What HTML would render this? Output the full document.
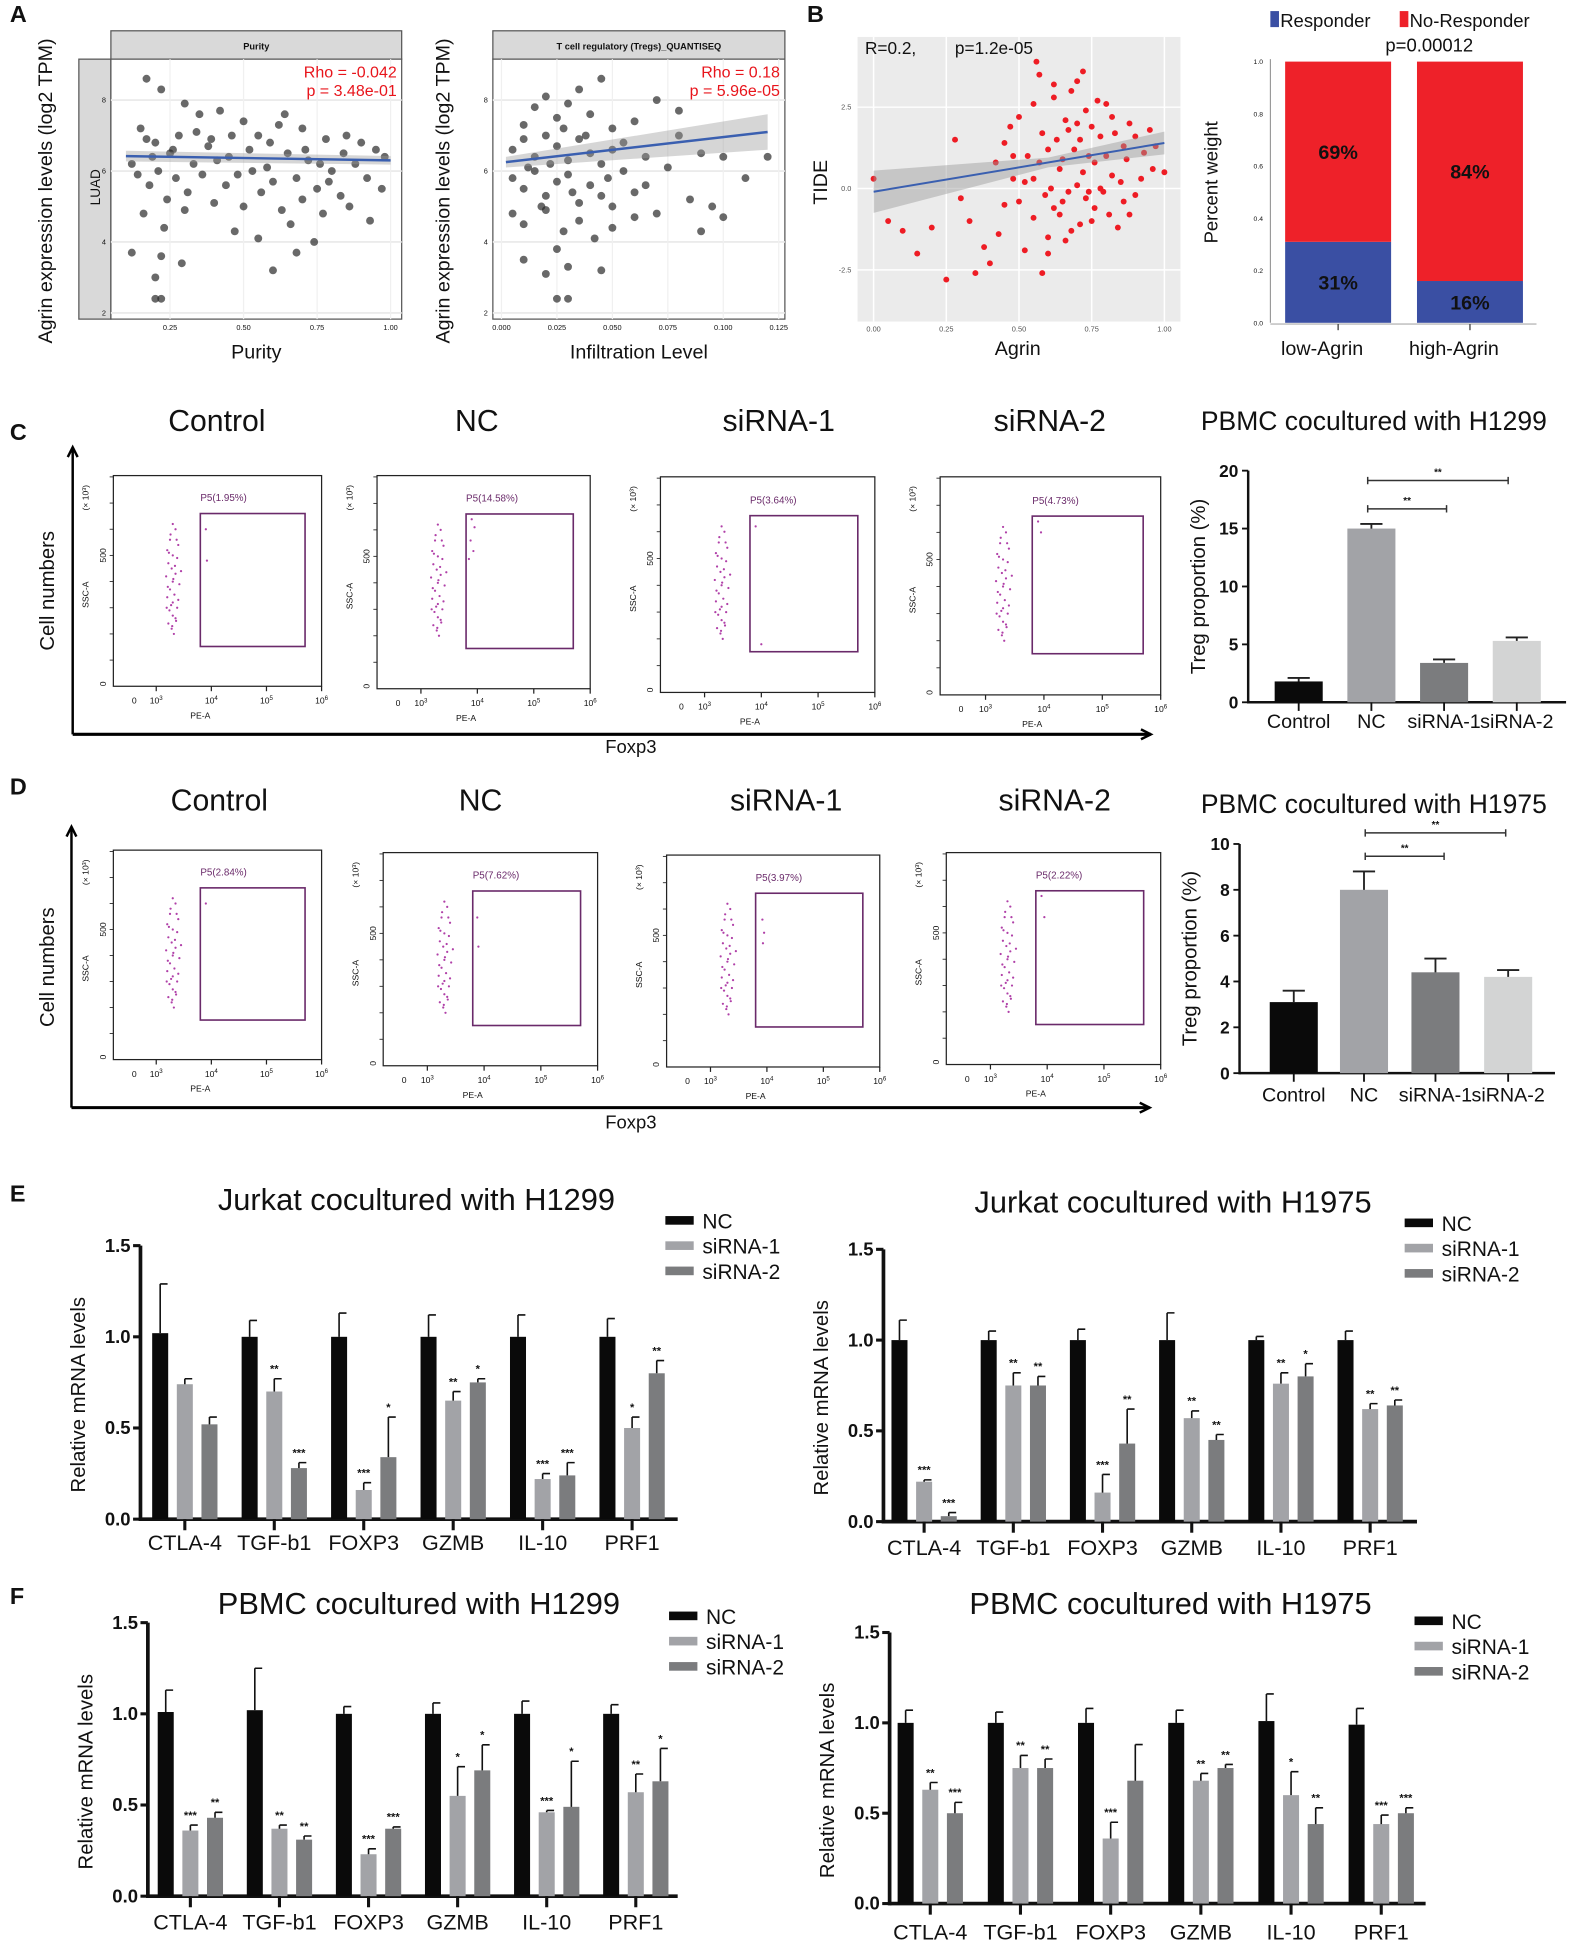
<!DOCTYPE html>
<html><head><meta charset="utf-8"><style>
html,body{margin:0;padding:0;background:#fff;}
svg{display:block;font-family:"Liberation Sans",Arial,sans-serif;}
</style></head><body>
<svg id="fig" xmlns="http://www.w3.org/2000/svg" width="1571" height="1943" viewBox="0 0 1275 1577" preserveAspectRatio="none">
<rect x="0" y="0" width="1275" height="1577" fill="#fff"/>
</svg>
<script>
// ---------------- DATA ----------------
const purityX=[0.17,0.22,0.3,0.35,0.42,0.5,0.55,0.62,0.7,0.78,0.85,0.95,0.15,0.2,0.25,0.28,0.33,0.38,0.45,0.48,0.52,0.58,0.6,0.65,0.68,0.72,0.75,0.8,0.83,0.88,0.92,0.98,0.12,0.18,0.21,0.24,0.27,0.31,0.36,0.4,0.44,0.5,0.56,0.63,0.7,0.77,0.86,0.93,0.16,0.23,0.3,0.47,0.55,0.66,0.74,0.22,0.29,0.12,0.6,0.68,0.2,0.22,0.2,0.19,0.17,0.26,0.34,0.41,0.53,0.59,0.71,0.79,0.9,0.97,0.14,0.39,0.46,0.64,0.76,0.84];
const purityY=[8.6,8.3,7.9,7.6,7.7,7.4,7.0,7.3,7.2,6.9,7.0,6.6,7.2,6.8,6.5,7.0,6.2,6.7,6.4,5.9,6.6,6.1,5.7,6.5,5.8,6.3,5.5,6.0,5.3,6.2,5.8,6.4,6.2,5.6,6.0,5.2,5.8,5.4,5.9,5.1,5.6,5.0,5.4,4.9,5.2,4.8,5.0,4.6,4.8,4.4,4.9,4.3,4.1,4.5,4.0,3.6,3.4,3.7,3.2,3.7,2.4,2.4,3.0,6.4,6.9,6.6,7.1,6.3,6.0,6.8,6.6,5.7,6.8,5.5,5.9,6.9,7.0,7.6,6.2,6.5];
const tregX=[0.01,0.015,0.02,0.025,0.03,0.035,0.04,0.045,0.05,0.06,0.07,0.08,0.005,0.01,0.015,0.02,0.025,0.03,0.035,0.04,0.045,0.05,0.055,0.065,0.075,0.09,0.1,0.12,0.005,0.01,0.015,0.02,0.025,0.03,0.035,0.04,0.045,0.05,0.06,0.07,0.085,0.11,0.005,0.01,0.02,0.028,0.035,0.042,0.05,0.06,0.09,0.1,0.01,0.02,0.03,0.025,0.045,0.025,0.03,0.012,0.018,0.022,0.028,0.032,0.038,0.048,0.055,0.065,0.08,0.095];
const tregY=[7.3,7.8,8.1,7.5,7.9,8.3,7.6,8.6,7.2,7.4,8.0,7.7,6.6,6.9,6.4,7.0,6.7,6.3,6.9,6.5,6.2,6.6,6.0,6.4,6.1,6.5,6.4,6.4,5.8,5.5,6.0,5.3,5.7,5.9,5.1,5.6,5.3,5.0,5.4,4.8,5.2,5.8,4.8,4.5,4.9,4.3,4.6,4.1,4.4,4.7,4.3,4.7,3.5,3.1,3.3,3.8,3.2,2.4,2.4,6.1,5.0,6.2,7.2,5.4,7.0,5.8,6.8,5.6,7.0,5.0];
const purityRho="Rho = -0.042", purityP="p = 3.48e-01";
const tregRho="Rho = 0.18", tregP="p = 5.96e-05";
const purityFit=[6.42,6.30];
const tregFit=[6.25,7.1];
const agrinX=[0,0.05,0.1,0.15,0.2,0.25,0.28,0.3,0.33,0.35,0.38,0.4,0.42,0.45,0.47,0.5,0.52,0.55,0.57,0.58,0.6,0.62,0.64,0.65,0.67,0.68,0.7,0.71,0.73,0.74,0.76,0.78,0.8,0.82,0.84,0.86,0.88,0.9,0.93,0.96,1.0,0.45,0.48,0.5,0.53,0.55,0.57,0.59,0.6,0.61,0.63,0.64,0.66,0.67,0.69,0.7,0.72,0.73,0.75,0.76,0.77,0.79,0.8,0.81,0.83,0.85,0.87,0.9,0.92,0.95,0.55,0.58,0.62,0.65,0.68,0.71,0.74,0.78,0.82,0.86,0.62,0.7,0.6,0.66,0.52,0.43,0.48,0.75,0.88,0.97,0.56,0.72];
const tideY=[0.3,-1.0,-1.3,-2.0,-1.2,-2.8,1.5,-0.3,-1.0,-2.6,-1.8,-2.3,0.8,-0.5,1.9,2.2,0.2,-0.9,3.5,-2.6,1.2,2.8,0.6,-0.4,1.8,3.0,0.1,-1.1,2.4,1.0,-0.6,1.6,2.6,0.4,-1.2,1.3,2.0,-0.2,1.1,0.6,0.5,1.4,0.3,-0.4,1.0,2.6,0.8,-0.2,-1.5,0.0,1.5,-0.8,2.1,-0.1,1.2,2.0,0.5,-0.3,1.9,0.8,2.7,-0.1,1.0,-0.8,1.7,0.2,0.9,1.6,0.3,1.8,0.3,1.7,-0.6,0.9,-1.3,1.5,-0.1,0.0,2.2,-0.4,3.2,3.3,-2.0,-1.6,-1.9,-1.4,1.0,-1.0,-0.8,1.3,3.9,3.6];
const tideFit=[-0.1,1.4];
const stackCats=["low-Agrin","high-Agrin"];
const responderPct=[31,16];
const nonResponderPct=[69,84];
const clusterPE=[3.3,3.35,3.25,3.4,3.2,3.3,3.38,3.22,3.28,3.35,3.18,3.3,3.42,3.25,3.33,3.2,3.3,3.38,3.24,3.3,3.36,3.22,3.28,3.32,3.26,3.34,3.21,3.4,3.27,3.35,3.23,3.31,3.45,3.19,3.37,3.29];
const clusterSSC=[620,600,560,540,520,500,490,470,450,430,420,400,390,370,350,340,320,300,290,270,250,240,220,200,580,460,380,330,310,260,510,410,440,300,560,230];
const gatedPE=[[3.9,3.92],[3.9,3.95,3.88,3.93,3.85],[3.9,4.0],[3.9,3.95],[3.9],[3.88,3.9],[3.92,3.95,3.93],[3.9,3.95]];
const gatedSSC=[[600,480],[640,610,560,520,490],[620,180],[640,600],[600],[560,450],[560,510,470],[640,560]];
const gateLabels=["P5(1.95%)","P5(14.58%)","P5(3.64%)","P5(4.73%)","P5(2.84%)","P5(7.62%)","P5(3.97%)","P5(2.22%)"];
const tregCats=["Control","NC","siRNA-1","siRNA-2"];
const tregH1299=[1.8,15.0,3.4,5.3];
const tregH1299Err=[0.3,0.4,0.3,0.3];
const tregH1975=[3.1,8.0,4.4,4.2];
const tregH1975Err=[0.5,0.8,0.6,0.3];
const genes=["CTLA-4","TGF-b1","FOXP3","GZMB","IL-10","PRF1"];
const jurkatH1299NC=[1.02,1.0,1.0,1.0,1.0,1.0];
const jurkatH1299NCTop=[1.29,1.09,1.13,1.12,1.12,1.10];
const jurkatH1299S1=[0.74,0.70,0.16,0.65,0.22,0.50];
const jurkatH1299S1Top=[0.77,0.77,0.20,0.70,0.25,0.56];
const jurkatH1299S2=[0.52,0.28,0.34,0.75,0.24,0.80];
const jurkatH1299S2Top=[0.56,0.31,0.56,0.77,0.31,0.87];
const jurkatH1299S1Sig=["","**","***","**","***","*"];
const jurkatH1299S2Sig=["","***","*","*","***","**"];
const jurkatH1975NC=[1.0,1.0,1.0,1.0,1.0,1.0];
const jurkatH1975NCTop=[1.11,1.05,1.06,1.15,1.02,1.05];
const jurkatH1975S1=[0.22,0.75,0.16,0.57,0.76,0.62];
const jurkatH1975S1Top=[0.23,0.82,0.26,0.61,0.82,0.65];
const jurkatH1975S2=[0.03,0.75,0.43,0.45,0.80,0.64];
const jurkatH1975S2Top=[0.05,0.80,0.62,0.48,0.87,0.67];
const jurkatH1975S1Sig=["***","**","***","**","**","**"];
const jurkatH1975S2Sig=["***","**","**","**","*","**"];
const pbmcH1299NC=[1.01,1.02,1.0,1.0,1.0,1.0];
const pbmcH1299NCTop=[1.13,1.25,1.04,1.06,1.07,1.05];
const pbmcH1299S1=[0.36,0.37,0.23,0.55,0.46,0.57];
const pbmcH1299S1Top=[0.39,0.39,0.26,0.71,0.47,0.67];
const pbmcH1299S2=[0.43,0.31,0.37,0.69,0.49,0.63];
const pbmcH1299S2Top=[0.46,0.33,0.38,0.83,0.74,0.81];
const pbmcH1299S1Sig=["***","**","***","*","***","**"];
const pbmcH1299S2Sig=["**","**","***","*","*","*"];
const pbmcH1975NC=[1.0,1.0,1.0,1.0,1.01,0.99];
const pbmcH1975NCTop=[1.07,1.06,1.08,1.07,1.16,1.08];
const pbmcH1975S1=[0.63,0.75,0.36,0.68,0.60,0.44];
const pbmcH1975S1Top=[0.67,0.82,0.45,0.72,0.73,0.49];
const pbmcH1975S2=[0.50,0.75,0.68,0.75,0.44,0.50];
const pbmcH1975S2Top=[0.56,0.80,0.88,0.77,0.53,0.53];
const pbmcH1975S1Sig=["**","**","***","**","*","***"];
const pbmcH1975S2Sig=["***","**","","**","**","***"];
const qTicks=["0.0","0.5","1.0","1.5"];

// ---------------- HELPERS ----------------
const NS="http://www.w3.org/2000/svg";
const svg=document.getElementById('fig');
function mk(tag,attrs,parent){const e=document.createElementNS(NS,tag);for(const k in attrs)e.setAttribute(k,attrs[k]);(parent||svg).appendChild(e);return e;}
function tx(x,y,s,attrs,parent){const a=Object.assign({x:x,y:y,'font-size':12,fill:'#111'},attrs||{});const e=mk('text',a,parent);e.textContent=s;return e;}
function grp(parent){return mk('g',{},parent);}

[["A",8,18],["B",655,18],["C",8,357],["D",8,645],["E",8,975],["F",8,1302]].forEach(p=>{
  const t=tx(p[1],p[2],p[0],{'font-size':19,'font-weight':'bold'});
  
  
});

// ---------------- PANEL A ----------------
function scatterA(cfg){
  const g=grp();
  
  
  const L=cfg.x0,R=cfg.x1,T=48,B=259;
  const hd=mk('rect',{x:L,y:25,width:R-L,height:T-25,fill:'#d9d9d9',stroke:'#555','stroke-width':1},g);
  
  
  const ht=tx((L+R)/2,40,cfg.header,{'font-size':7.5,'text-anchor':'middle','font-weight':'bold'},g);
  
  
  const bg=mk('rect',{x:L,y:T,width:R-L,height:B-T,fill:'#fff',stroke:'#555','stroke-width':1},g);
  
  
  const ys=v=>254-(v-2)*28.8;
  [2,4,6,8].forEach(v=>{
    const gl=mk('line',{x1:L,x2:R,y1:ys(v),y2:ys(v),stroke:'#ebebeb','stroke-width':1.5},g);
    
    
    const tl=tx(L-4,ys(v)+2,String(v),{'font-size':6,'text-anchor':'end'},g);
    
    
  });
  cfg.ticks.forEach(v=>{
    const px=cfg.xs(v);
    const gl=mk('line',{x1:px,x2:px,y1:T,y2:B,stroke:'#f0f0f0','stroke-width':1},g);
    
    
    const tl=tx(px,268,cfg.fmt(v),{'font-size':6,'text-anchor':'middle'},g);
    
    
  });
  cfg.X.forEach((xv,i)=>{
    const c=mk('circle',{cx:cfg.xs(xv),cy:ys(cfg.Y[i]),r:3.2,fill:'#2a2a2a','fill-opacity':0.7},g);
    
    
  });
  const fx0=cfg.fitX[0],fx1=cfg.fitX[1];
  const band=mk('polygon',{points:`${cfg.xs(fx0)},${ys(cfg.fit[0]-cfg.band[0])} ${cfg.xs(fx1)},${ys(cfg.fit[1]-cfg.band[1])} ${cfg.xs(fx1)},${ys(cfg.fit[1]+cfg.band[1])} ${cfg.xs(fx0)},${ys(cfg.fit[0]+cfg.band[0])}`,fill:'#999','fill-opacity':0.4},g);
  
  
  const ln=mk('line',{x1:cfg.xs(fx0),y1:ys(cfg.fit[0]),x2:cfg.xs(fx1),y2:ys(cfg.fit[1]),stroke:'#3a5fb0','stroke-width':2},g);
  
  
  const r1=tx(R-4,63,cfg.rho,{'font-size':13,'text-anchor':'end',fill:'#e8141b'},g);
  
  
  const r2=tx(R-4,78,cfg.p,{'font-size':13,'text-anchor':'end',fill:'#e8141b'},g);
  
  
  const xl=tx((L+R)/2,291,cfg.xlabel,{'font-size':16,'text-anchor':'middle'},g);
  
  
  const yl=tx(0,0,"Agrin expression levels (log2 TPM)",{'font-size':16,'text-anchor':'middle',transform:`translate(${cfg.ylx},155) rotate(-90)`},g);
  
  
}
const luad=mk('rect',{x:64,y:48,width:26,height:211,fill:'#d9d9d9',stroke:'#555','stroke-width':1});


const luadT=tx(0,0,"LUAD",{'font-size':11,'text-anchor':'middle',transform:'translate(81,152) rotate(-90)'});


scatterA({name:'purity-scatter',x0:90,x1:326,header:'Purity',xs:v=>138+(v-0.25)*238.7,ticks:[0.25,0.5,0.75,1.0],fmt:v=>v.toFixed(2),X:purityX,Y:purityY,fit:purityFit,fitX:[0.1,1.0],band:[0.15,0.12],rho:purityRho,p:purityP,xlabel:'Purity',ylx:42});
scatterA({name:'treg-scatter',x0:400,x1:637,header:'T cell regulatory (Tregs)_QUANTISEQ',xs:v=>407+v*1800,ticks:[0,0.025,0.05,0.075,0.1,0.125],fmt:v=>v.toFixed(3),X:tregX,Y:tregY,fit:tregFit,fitX:[0.002,0.12],band:[0.15,0.5],rho:tregRho,p:tregP,xlabel:'Infiltration Level',ylx:365});

// ---------------- PANEL B scatter ----------------
(function(){
  const g=grp();
  
  
  const L=696,R=958,T=30,B=261;
  const xs=v=>709+v*236, ys=v=>153-v*26.4;
  const bg=mk('rect',{x:L,y:T,width:R-L,height:B-T,fill:'#ebebeb'},g);
  
  
  [-2.5,0,2.5].forEach(v=>{
    const gl=mk('line',{x1:L,x2:R,y1:ys(v),y2:ys(v),stroke:'#fff','stroke-width':1.2},g);
    
    
    const tl=tx(L-5,ys(v)+2,v.toFixed(1),{'font-size':6,'text-anchor':'end',fill:'#555'},g);
    
    
  });
  [0,0.25,0.5,0.75,1].forEach(v=>{
    const gl=mk('line',{x1:xs(v),x2:xs(v),y1:T,y2:B,stroke:'#fff','stroke-width':1.2},g);
    
    
    const tl=tx(xs(v),269,v.toFixed(2),{'font-size':6,'text-anchor':'middle',fill:'#555'},g);
    
    
  });
  agrinX.forEach((xv,i)=>{
    const c=mk('circle',{cx:xs(xv),cy:ys(tideY[i]),r:2.4,fill:'#ee1c24'},g);
    
    
  });
  const band=mk('polygon',{points:`${xs(0)},${ys(tideFit[0]-0.65)} ${xs(0.6)},${ys(0.8-0.15)} ${xs(1)},${ys(tideFit[1]-0.35)} ${xs(1)},${ys(tideFit[1]+0.35)} ${xs(0.6)},${ys(0.8+0.15)} ${xs(0)},${ys(tideFit[0]+0.65)}`,fill:'#999','fill-opacity':0.45},g);
  
  
  const ln=mk('line',{x1:xs(0),y1:ys(tideFit[0]),x2:xs(1),y2:ys(tideFit[1]),stroke:'#3a5fb0','stroke-width':1.6},g);
  
  
  const st=tx(702,44,"R=0.2,",{'font-size':14},g);
  
  
  const st2=tx(775,44,"p=1.2e-05",{'font-size':14},g);
  
  
  const xl=tx(826,288,"Agrin",{'font-size':16,'text-anchor':'middle'},g);
  
  
  const yl=tx(0,0,"TIDE",{'font-size':16,'text-anchor':'middle',transform:'translate(671,148) rotate(-90)'},g);
  
  
})();

// ---------------- PANEL B stacked ----------------
(function(){
  const g=grp();
  
  
  const ys=v=>262-v*2.12; const ax=1031;
  const axl=mk('line',{x1:ax,x2:ax,y1:48,y2:262,stroke:'#888','stroke-width':0.8},g);
  
  
  const bxl=mk('line',{x1:ax,x2:1247,y1:263,y2:263,stroke:'#ccc','stroke-width':1.5},g);
  
  
  [0,20,40,60,80,100].forEach(v=>{
    const tl=tx(ax-6,ys(v)+2,(v/100).toFixed(1),{'font-size':5.5,'text-anchor':'end'},g);
    
    
  });
  const bx=[1043,1150];
  stackCats.forEach((c,i)=>{
    const rb=mk('rect',{x:bx[i],y:ys(responderPct[i]),width:86,height:ys(0)-ys(responderPct[i]),fill:'#3a4fa3'},g);
    
    
    const nb=mk('rect',{x:bx[i],y:ys(responderPct[i]+nonResponderPct[i]),width:86,height:ys(responderPct[i])-ys(responderPct[i]+nonResponderPct[i]),fill:'#ee2129'},g);
    
    
    const t1=tx(bx[i]+43,(ys(responderPct[i])+ys(0))/2+6,responderPct[i]+'%',{'font-size':16,'font-weight':'bold','text-anchor':'middle'},g);
    
    
    const t2=tx(bx[i]+43,(ys(responderPct[i])+ys(100))/2+6,nonResponderPct[i]+'%',{'font-size':16,'font-weight':'bold','text-anchor':'middle'},g);
    
    
    const tk=mk('line',{x1:bx[i]+43,x2:bx[i]+43,y1:263,y2:268,stroke:'#333'},g);
    
    
    const cl=tx(bx[i]+30,288,c,{'font-size':16,'text-anchor':'middle'},g);
    
    
  });
  const ls1=mk('rect',{x:1031,y:9,width:7,height:13,fill:'#3a4fa3'},g);
  
  
  const lt1=tx(1039,22,"Responder",{'font-size':15},g);
  
  
  const ls2=mk('rect',{x:1136,y:9,width:7,height:13,fill:'#ee2129'},g);
  
  
  const lt2=tx(1144,22,"No-Responder",{'font-size':15},g);
  
  
  const pv=tx(1160,42,"p=0.00012",{'font-size':15,'text-anchor':'middle'},g);
  
  
  const yl=tx(0,0,"Percent weight",{'font-size':15,'text-anchor':'middle',transform:'translate(988,148) rotate(-90)'},g);
  
  
})();

// ---------------- FLOW PLOTS ----------------
function flowPanel(rows,titles,titleY,arrowTop,arrowY,foxY,offset){
  titles.forEach(t=>{
    const e=tx(t[1],titleY,t[0],{'font-size':24.5,'text-anchor':'middle'});
    
    
  });
  const va=mk('path',{d:`M${rows.ax},${arrowY} L${rows.ax},${arrowTop}`,stroke:'#000','stroke-width':2,fill:'none'});
  
  
  const vh=mk('path',{d:`M${rows.ax-4},${arrowTop+8} L${rows.ax},${arrowTop} L${rows.ax+4},${arrowTop+8}`,stroke:'#000','stroke-width':2,fill:'none'});
  
  
  const ha=mk('path',{d:`M${rows.ax},${arrowY} L${rows.xend},${arrowY}`,stroke:'#000','stroke-width':2.5,fill:'none'});
  
  
  const hh=mk('path',{d:`M${rows.xend-8},${arrowY-4} L${rows.xend},${arrowY} L${rows.xend-8},${arrowY+4}`,stroke:'#000','stroke-width':2,fill:'none'});
  
  
  const cn=tx(0,0,"Cell numbers",{'font-size':16.5,'text-anchor':'middle',transform:`translate(44,${(arrowTop+arrowY)/2}) rotate(-90)`});
  
  
  const fx=tx(512,foxY,"Foxp3",{'font-size':15,'text-anchor':'middle'});
  
  
  rows.boxes.forEach((b,k)=>{
    const idx=offset+k;
    const g=grp();
    
    
    const [L,T,R,B]=b; const w=R-L,h=B-T;
    const xs=v=>L+35/170*w+(v-3)*45/170*w;
    const ys=v=>B-v*(h/805);
    const box=mk('rect',{x:L,y:T,width:w,height:h,fill:'none',stroke:'#222','stroke-width':1},g);
    
    
    for(let d=3;d<=6;d++){
      const tk=mk('line',{x1:xs(d),x2:xs(d),y1:B,y2:B+4,stroke:'#222','stroke-width':1},g);
      
      
      const tl=tx(xs(d),B+14,'10',{'font-size':7,'text-anchor':'middle'},g);
      const sp=document.createElementNS(NS,'tspan');sp.setAttribute('dy','-3');sp.setAttribute('font-size','5');sp.textContent=String(d);tl.appendChild(sp);
      
      
    }
    const z=tx(L+17,B+14,'0',{'font-size':7,'text-anchor':'middle'},g);
    
    
    const pe=tx(xs(3.8),B+26,'PE-A',{'font-size':7,'text-anchor':'middle'},g);
    
    
    const y0=tx(L-6,B+2,'0',{'font-size':7,'text-anchor':'middle',transform:`rotate(-90 ${L-8} ${B})`},g);
    
    
    const y5=tx(0,0,'500',{'font-size':7,'text-anchor':'middle',transform:`translate(${L-6},${ys(500)}) rotate(-90)`},g);
    
    
    const ss=tx(0,0,'SSC-A',{'font-size':7,'text-anchor':'middle',transform:`translate(${L-20},${ys(350)}) rotate(-90)`},g);
    
    
    const sc=tx(0,0,'(× 10³)',{'font-size':7,'text-anchor':'middle',transform:`translate(${L-20},${T+18}) rotate(-90)`},g);
    
    
    for(let s=100;s<=800;s+=100){
      const tk=mk('line',{x1:L-3,x2:L,y1:ys(s),y2:ys(s),stroke:'#222','stroke-width':0.7},g);
      
      
    }
    const gate=mk('rect',{x:xs(3.8),y:ys(660),width:xs(5.7)-xs(3.8),height:ys(152)-ys(660),fill:'none',stroke:'#6a2a6a','stroke-width':1.3},g);
    
    
    const gl=tx(xs(3.8),ys(660)-10,gateLabels[idx],{'font-size':8,fill:'#6a2a6a'},g);
    
    
    clusterPE.forEach((pv,i)=>{
      const c=mk('circle',{cx:xs(pv),cy:ys(clusterSSC[i]),r:0.9,fill:'#b040a8'},g);
      
      
    });
    gatedPE[idx].forEach((pv,i)=>{
      const c=mk('circle',{cx:xs(pv),cy:ys(gatedSSC[idx][i]),r:0.9,fill:'#b040a8'},g);
      
      
    });
  });
}
flowPanel({ax:59,xend:934,boxes:[[92,386,261,557],[306,386,479,559],[536,387,710,562],[763,387,942,564]]},
  [["Control",176],["NC",387],["siRNA-1",632],["siRNA-2",852]],350,363,596,611,0);
flowPanel({ax:58,xend:933,boxes:[[92,690,261,860],[311,692,485,865],[541,694,714,866],[768,692,942,864]]},
  [["Control",178],["NC",390],["siRNA-1",638],["siRNA-2",856]],658,671,899,916,4);

// ---------------- TREG BAR CHARTS ----------------
function tregBar(cfg,vals,errs){
  const g=grp();
  
  
  const ys=v=>cfg.y0-(v/cfg.max)*(cfg.y0-cfg.yTop);
  const t=tx(1115,cfg.titleY,cfg.title,{'font-size':21.5,'text-anchor':'middle'},g);
  
  
  const ya=mk('line',{x1:cfg.ax,x2:cfg.ax,y1:cfg.yTop,y2:cfg.y0+1,stroke:'#111','stroke-width':2},g);
  
  
  const xa=mk('line',{x1:cfg.ax,x2:cfg.xend,y1:cfg.y0,y2:cfg.y0,stroke:'#111','stroke-width':2},g);
  
  
  for(let v=0;v<=cfg.max;v+=cfg.step){
    const tk=mk('line',{x1:cfg.ax-5,x2:cfg.ax,y1:ys(v),y2:ys(v),stroke:'#111','stroke-width':1.5},g);
    
    
    const tl=tx(cfg.ax-8,ys(v)+5,String(v),{'font-size':14,'font-weight':'bold','text-anchor':'end'},g);
    
    
  }
  const yl=tx(0,0,"Treg proportion (%)",{'font-size':16.5,'text-anchor':'middle',transform:`translate(${cfg.ax-35},${(cfg.y0+cfg.yTop)/2}) rotate(-90)`},g);
  
  
  const cols=['#0a0a0a','#a2a3a7','#7b7c7e','#d3d4d4'];
  tregCats.forEach((c,i)=>{
    const cx=cfg.cx[i];
    const b=mk('rect',{x:cx-19.5,y:ys(vals[i]),width:39,height:cfg.y0-ys(vals[i]),fill:cols[i]},g);
    
    
    const e=mk('path',{d:`M${cx},${ys(vals[i])} L${cx},${ys(vals[i]+errs[i])} M${cx-9},${ys(vals[i]+errs[i])} L${cx+9},${ys(vals[i]+errs[i])}`,stroke:'#222','stroke-width':1.5,fill:'none'},g);
    
    
    const tk=mk('line',{x1:cx,x2:cx,y1:cfg.y0,y2:cfg.y0+7,stroke:'#111','stroke-width':1.5},g);
    
    
    const cl=tx(cx,cfg.labelY,c,{'font-size':16,'text-anchor':'middle'},g);
    
    
  });
  cfg.sig.forEach(s=>{
    const p=mk('path',{d:`M${s[0]},${s[2]} L${s[1]},${s[2]} M${s[0]},${s[2]-3} L${s[0]},${s[2]+3} M${s[1]},${s[2]-3} L${s[1]},${s[2]+3}`,stroke:'#333','stroke-width':1.2,fill:'none'},g);
    
    
    const st=tx((s[0]+s[1])/2,s[2]-4,'**',{'font-size':8,'text-anchor':'middle','font-weight':'bold'},g);
    
    
  });
}
tregBar({name:'treg-h1299-bar-chart',title:'PBMC cocultured with H1299',titleY:349,ax:1013,xend:1271,y0:570,yTop:382,max:20,step:5,cx:[1054,1113,1172,1231],labelY:591,sig:[[1110,1224,390],[1110,1174,413]]},tregH1299,tregH1299Err);
tregBar({name:'treg-h1975-bar-chart',title:'PBMC cocultured with H1975',titleY:660,ax:1006,xend:1262,y0:871,yTop:685,max:10,step:2,cx:[1050,1107,1165,1224],labelY:894,sig:[[1108,1222,676],[1108,1172,695]]},tregH1975,tregH1975Err);

// ---------------- QPCR GROUPED BARS ----------------
function grouped(cfg,nc,ncTop,s1,s1Top,s2,s2Top,sig1,sig2){
  const g=grp();
  
  
  const ys=v=>cfg.y0-(v/1.5)*(cfg.y0-cfg.y15);
  const t=tx(cfg.titleX,cfg.titleY,cfg.title,{'font-size':25,'text-anchor':'middle'},g);
  
  
  const ya=mk('line',{x1:cfg.ax,x2:cfg.ax,y1:cfg.y15,y2:cfg.y0+1.5,stroke:'#111','stroke-width':3},g);
  
  
  const xa=mk('line',{x1:cfg.ax,x2:cfg.xend,y1:cfg.y0,y2:cfg.y0,stroke:'#111','stroke-width':3},g);
  
  
  qTicks.forEach((lab,i)=>{
    const v=i*0.5;
    const tk=mk('line',{x1:cfg.ax-6,x2:cfg.ax,y1:ys(v),y2:ys(v),stroke:'#111','stroke-width':2.5},g);
    
    
    const tl=tx(cfg.ax-8,ys(v)+5,lab,{'font-size':15,'font-weight':'bold','text-anchor':'end'},g);
    
    
  });
  const yl=tx(0,0,"Relative mRNA levels",{'font-size':16.5,'text-anchor':'middle',transform:`translate(${cfg.ax-45},${(cfg.y0+cfg.y15)/2+10}) rotate(-90)`},g);
  
  
  const series=[[nc,ncTop,null,'#0a0a0a','nc'],[s1,s1Top,sig1,'#a2a3a7','sirna1'],[s2,s2Top,sig2,'#7b7c7e','sirna2']];
  genes.forEach((gn,i)=>{
    const base=cfg.nc0+i*cfg.sp;
    series.forEach((s,j)=>{
      const cx=base+j*20;
      const b=mk('rect',{x:cx-6.5,y:ys(s[0][i]),width:13,height:cfg.y0-ys(s[0][i]),fill:s[3]},g);
      
      
      const top=ys(s[1][i]);
      const e=mk('path',{d:`M${cx},${ys(s[0][i])} L${cx},${top} M${cx},${top} L${cx+6},${top}`,stroke:'#111','stroke-width':1.3,fill:'none'},g);
      
      
      if(s[2]&&s[2][i]){
        const st=tx(cx,top-5,s[2][i],{'font-size':9,'font-weight':'bold','text-anchor':'middle'},g);
        
        
      }
    });
    const tk=mk('line',{x1:base+20,x2:base+20,y1:cfg.y0,y2:cfg.y0+9,stroke:'#111','stroke-width':2.5},g);
    
    
    const cl=tx(base+20,cfg.labelY,gn,{'font-size':17.5,'text-anchor':'middle'},g);
    
    
  });
  [['NC','#0a0a0a'],['siRNA-1','#a2a3a7'],['siRNA-2','#7b7c7e']].forEach((l,k)=>{
    const sw=mk('rect',{x:cfg.lx,y:cfg.ly+k*20.5-4,width:23,height:7,fill:l[1]},g);
    
    
    const lt=tx(cfg.lx+30,cfg.ly+k*20.5+6,l[0],{'font-size':17},g);
    
    
  });
}
grouped({name:'jurkat-h1299-chart',title:'Jurkat cocultured with H1299',titleX:338,titleY:982,ax:114,y0:1233,y15:1011,nc0:130,sp:72.6,xend:550,labelY:1258,lx:540,ly:991},
  jurkatH1299NC,jurkatH1299NCTop,jurkatH1299S1,jurkatH1299S1Top,jurkatH1299S2,jurkatH1299S2Top,jurkatH1299S1Sig,jurkatH1299S2Sig);
grouped({name:'jurkat-h1975-chart',title:'Jurkat cocultured with H1975',titleX:952,titleY:984,ax:717,y0:1235,y15:1014,nc0:730,sp:72.4,xend:1150,labelY:1262,lx:1140,ly:993},
  jurkatH1975NC,jurkatH1975NCTop,jurkatH1975S1,jurkatH1975S1Top,jurkatH1975S2,jurkatH1975S2Top,jurkatH1975S1Sig,jurkatH1975S2Sig);
grouped({name:'pbmc-h1299-chart',title:'PBMC cocultured with H1299',titleX:340,titleY:1310,ax:120,y0:1539,y15:1317,nc0:134.5,sp:72.3,xend:550,labelY:1566,lx:543,ly:1312},
  pbmcH1299NC,pbmcH1299NCTop,pbmcH1299S1,pbmcH1299S1Top,pbmcH1299S2,pbmcH1299S2Top,pbmcH1299S1Sig,pbmcH1299S2Sig);
grouped({name:'pbmc-h1975-chart',title:'PBMC cocultured with H1975',titleX:950,titleY:1310,ax:722,y0:1545,y15:1325,nc0:735,sp:73.2,xend:1157,labelY:1574,lx:1148,ly:1316},
  pbmcH1975NC,pbmcH1975NCTop,pbmcH1975S1,pbmcH1975S1Top,pbmcH1975S2,pbmcH1975S2Top,pbmcH1975S1Sig,pbmcH1975S2Sig);
</script>
</body></html>
